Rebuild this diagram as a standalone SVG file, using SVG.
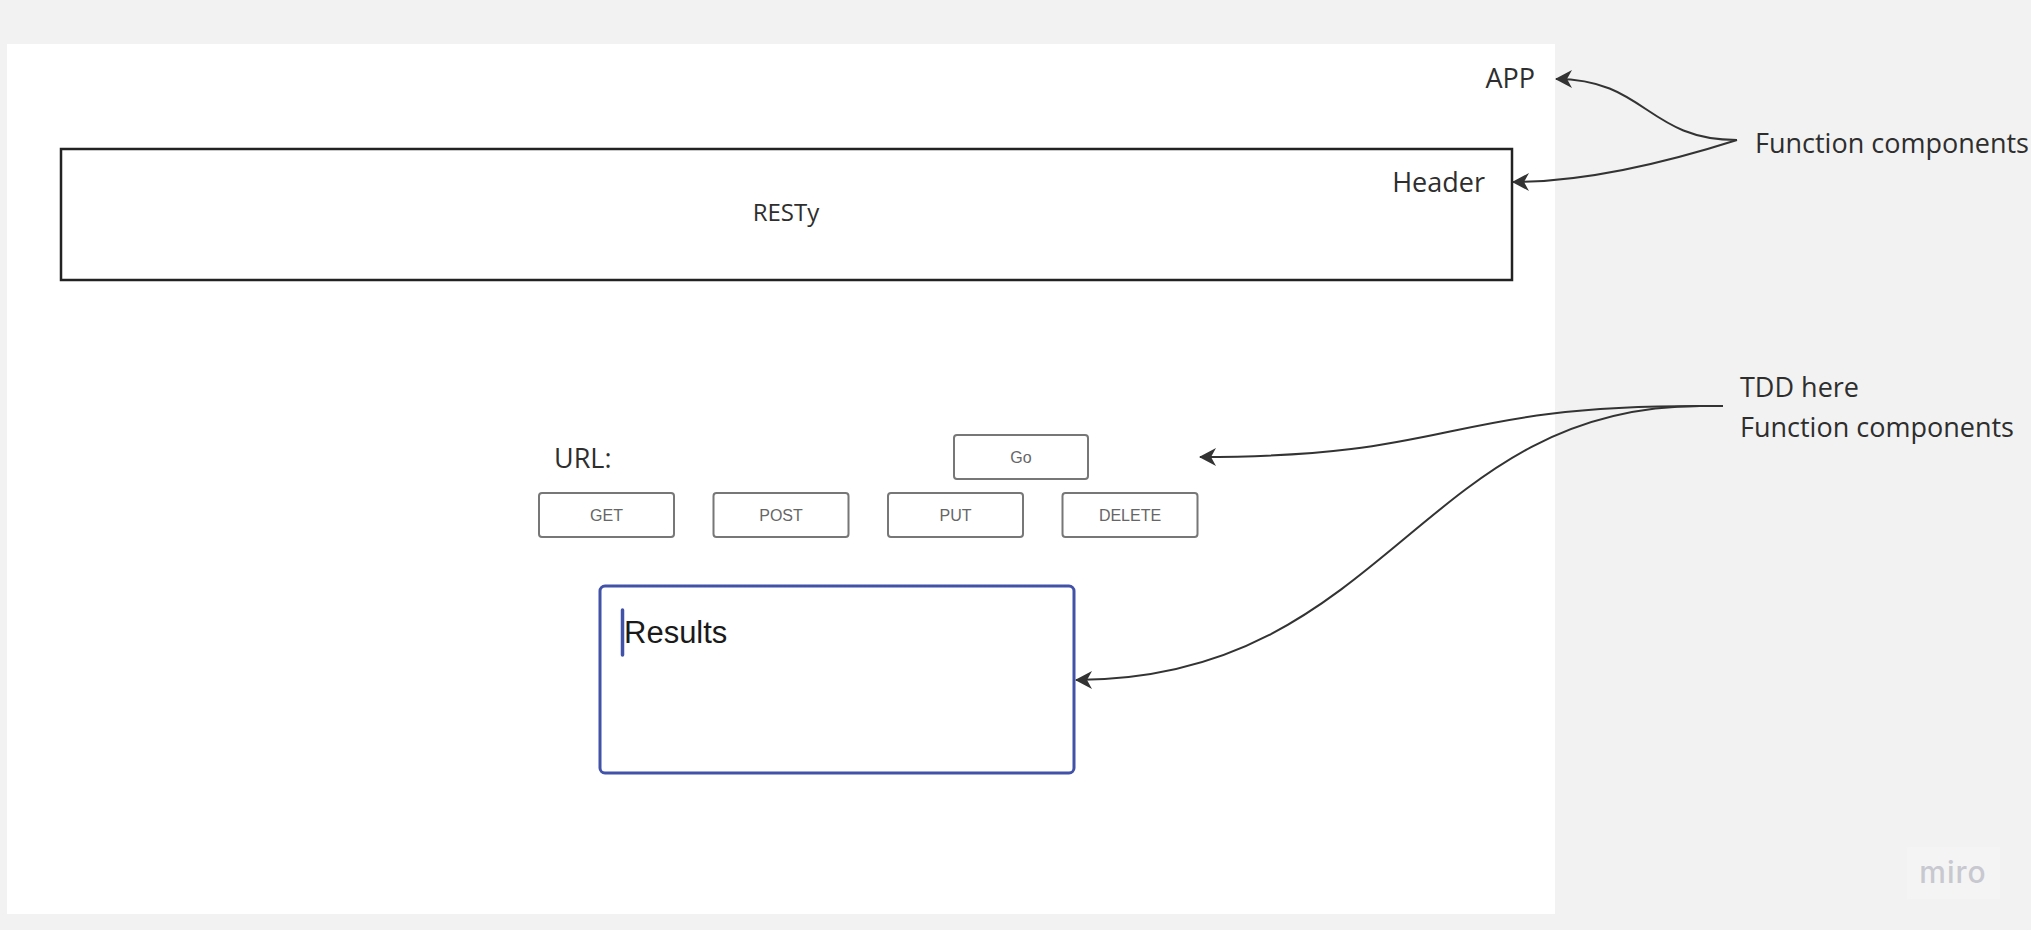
<svg xmlns="http://www.w3.org/2000/svg" width="2031" height="930" viewBox="0 0 2031 930">
  <defs>
    <style>
      .lbl { font-family: "Open Sans", "Noto Sans", sans-serif; font-size: 27px; fill: #2e2e2e; }
      .btn rect { fill: #ffffff; stroke: #777777; stroke-width: 2; }
      .btn text { font-family: "Liberation Sans", Arial, sans-serif; font-size: 16px; fill: #666666; text-anchor: middle; }
      .conn path { fill: none; stroke: #333333; stroke-width: 2; }
    </style>
    <marker id="arr" markerUnits="userSpaceOnUse" viewBox="0 0 17 18" refX="16" refY="9" markerWidth="17" markerHeight="18" orient="auto">
      <path d="M0,0 L17,9 L0,18 L5,9 Z" fill="#333333"/>
    </marker>
  </defs>

  <rect x="0" y="0" width="2031" height="930" fill="#f2f2f2"/>

  <g id="app">
    <rect x="7" y="44" width="1548" height="870" fill="#ffffff"/>
    <text class="lbl" x="1535" y="88" text-anchor="end">APP</text>
  </g>

  <g id="header">
    <rect x="61" y="149" width="1451" height="131" fill="#ffffff" stroke="#222222" stroke-width="2.5"/>
    <text class="lbl" x="1485" y="192" text-anchor="end">Header</text>
    <text class="lbl" x="786" y="221" text-anchor="middle" style="font-size:24px">RESTy</text>
  </g>

  <g id="url-label">
    <text class="lbl" x="554" y="468">URL:</text>
  </g>

  <g id="btn-go" class="btn">
    <rect x="954" y="435" width="134" height="44" rx="3"/>
    <text x="1021" y="462.5">Go</text>
  </g>
  <g id="btn-get" class="btn">
    <rect x="539" y="493" width="135" height="44" rx="3"/>
    <text x="606.5" y="520.5">GET</text>
  </g>
  <g id="btn-post" class="btn">
    <rect x="713.5" y="493" width="135" height="44" rx="3"/>
    <text x="781" y="520.5">POST</text>
  </g>
  <g id="btn-put" class="btn">
    <rect x="888" y="493" width="135" height="44" rx="3"/>
    <text x="955.5" y="520.5">PUT</text>
  </g>
  <g id="btn-delete" class="btn">
    <rect x="1062.5" y="493" width="135" height="44" rx="3"/>
    <text x="1130" y="520.5">DELETE</text>
  </g>

  <g id="results">
    <rect x="600" y="586" width="474" height="187" rx="5" fill="#ffffff" stroke="#4152a8" stroke-width="3"/>
    <line x1="622.5" y1="610" x2="622.5" y2="655" stroke="#4152a8" stroke-width="3.5" stroke-linecap="round"/>
    <text x="624" y="642.5" font-family="'Liberation Sans', Arial, sans-serif" font-size="31" fill="#1a1a1a">Results</text>
  </g>

  <g id="note-top">
    <text class="lbl" x="1755" y="153">Function components</text>
  </g>

  <g id="note-tdd">
    <text class="lbl" x="1740" y="397">TDD here</text>
    <text class="lbl" x="1740" y="437">Function components</text>
  </g>

  <g id="connectors" class="conn">
    <path d="M1737,140 C1647,140 1646,79 1556,79" marker-end="url(#arr)"/>
    <path d="M1737,140 C1690,155 1600,182 1513,182" marker-end="url(#arr)"/>
    <path d="M1723,406 L1700,406 C1440,406 1460,457 1200,457" marker-end="url(#arr)"/>
    <path d="M1723,406 L1700,406 C1420,406 1386,680 1076,680" marker-end="url(#arr)"/>
  </g>

  <g id="miro-logo">
    <rect x="1907" y="847" width="93" height="52" fill="#f4f4f4"/>
    <text x="1953" y="883" text-anchor="middle" font-family="Inter, 'Noto Sans', sans-serif" font-size="30" font-weight="500" letter-spacing="1" fill="#c8c8d0">miro</text>
  </g>
</svg>
